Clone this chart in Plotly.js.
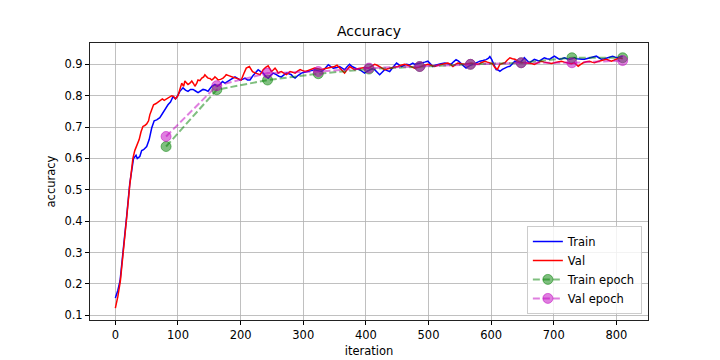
<!DOCTYPE html>
<html>
<head>
<meta charset="utf-8">
<script src="https://cdn.plot.ly/plotly-3.0.1.min.js"></script>
<style>html,body{margin:0;padding:0;background:#fff;}#chart{width:720px;height:360px;}</style>
</head>
<body>
<div id="chart"></div>
<script>
const trainIter = [0,4,7.5,13,18,23,29,33,35,39,42,45,50,54,58,62,66,71,77,84,88,92,96,98,103,108,112,116,120,124,128,132,136,140,144,148,151,154,159,163,167,171,175,179,183,187,191,195,199,203,207,211,215,219,223,228,232,236,240,244,248,252,257,261,265,269,273,277,281,284,287,292,297,302,308,313,318,323,329,334,340,344,348,354,358,362,366,370,374,378,382,386,390,394,398,402,406,410,414,418,422,426,430,434,438,443,449,453,457,461,465,470,475,478,484,489,494,499,503,507,511,515,520,526,531,536,540,544,548,552,556,560,565,571,576,582,587,592,596,598,601,603,606,608,611,614,618,622,626,630,634,638,642,646,650,653,657,661,665,669,673,677,681,685,689,693,697,701,705,709,713,717,721,725,729,733,737,741,745,749,753,757,762,768,772,776,781,786,790,794,798,802,806,810];
const trainAcc = [0.155,0.18,0.21,0.31,0.415,0.52,0.60,0.61,0.60,0.606,0.625,0.628,0.638,0.66,0.697,0.72,0.723,0.73,0.75,0.771,0.78,0.797,0.79,0.795,0.814,0.825,0.818,0.814,0.82,0.82,0.815,0.81,0.815,0.82,0.818,0.814,0.822,0.83,0.836,0.83,0.836,0.845,0.84,0.845,0.85,0.855,0.86,0.855,0.85,0.852,0.856,0.85,0.85,0.862,0.872,0.883,0.877,0.872,0.862,0.856,0.865,0.872,0.867,0.862,0.86,0.865,0.872,0.87,0.867,0.86,0.856,0.865,0.872,0.875,0.877,0.88,0.883,0.88,0.877,0.885,0.899,0.893,0.888,0.89,0.893,0.888,0.883,0.892,0.9,0.893,0.888,0.885,0.883,0.878,0.872,0.878,0.883,0.886,0.883,0.875,0.867,0.875,0.883,0.88,0.877,0.89,0.904,0.898,0.893,0.897,0.9,0.898,0.904,0.9,0.902,0.904,0.907,0.91,0.9,0.893,0.897,0.9,0.902,0.904,0.902,0.9,0.908,0.915,0.91,0.904,0.895,0.888,0.895,0.9,0.905,0.91,0.912,0.915,0.92,0.925,0.915,0.904,0.889,0.883,0.882,0.878,0.884,0.889,0.892,0.894,0.902,0.91,0.907,0.905,0.913,0.921,0.913,0.905,0.91,0.916,0.913,0.91,0.916,0.921,0.918,0.916,0.921,0.926,0.921,0.916,0.918,0.921,0.918,0.916,0.918,0.921,0.918,0.916,0.916,0.916,0.918,0.921,0.924,0.926,0.921,0.916,0.918,0.921,0.924,0.926,0.923,0.921,0.924,0.926];

const valIter = [0,4,8,13,18,23,28,31,34,38,41,44,47,50,53,55,58,61,65,68,71,75,78,82,86,90,93,96,98,100,103,106,109,111,114,116,119,122,125,127,130,132,135,138,141,143,146,148,151,154,157,159,162,164,168,172,175,177,181,185,189,193,197,201,205,209,214,219,224,228,231,234,236,240,244,247,249,252,255,258,260,263,265,269,273,276,279,283,287,291,295,299,303,307,311,315,318,323,329,334,340,345,350,354,358,362,366,370,374,378,382,387,393,398,404,409,414,418,422,426,430,435,441,446,451,456,462,467,473,478,484,489,494,499,505,510,515,521,526,531,535,539,543,547,552,558,563,568,574,579,584,590,594,598,602,606,610,614,618,622,626,630,634,638,643,648,654,659,664,669,674,680,685,691,696,701,707,712,717,723,728,733,736,739,743,747,752,757,761,765,769,773,778,784,788,792,796,800,805,810];
const valAcc = [0.123,0.16,0.21,0.30,0.41,0.515,0.60,0.625,0.64,0.66,0.685,0.702,0.705,0.71,0.72,0.739,0.755,0.771,0.775,0.78,0.782,0.79,0.785,0.79,0.795,0.80,0.798,0.79,0.795,0.80,0.82,0.84,0.83,0.847,0.84,0.836,0.84,0.847,0.838,0.83,0.84,0.85,0.848,0.856,0.86,0.867,0.86,0.856,0.855,0.85,0.855,0.86,0.855,0.85,0.852,0.856,0.862,0.867,0.864,0.86,0.858,0.856,0.852,0.85,0.87,0.888,0.893,0.877,0.872,0.87,0.867,0.875,0.883,0.89,0.895,0.885,0.877,0.882,0.888,0.88,0.872,0.876,0.877,0.872,0.867,0.872,0.877,0.875,0.872,0.878,0.883,0.88,0.877,0.88,0.883,0.886,0.888,0.886,0.883,0.886,0.888,0.891,0.893,0.897,0.888,0.878,0.872,0.883,0.893,0.888,0.883,0.886,0.888,0.89,0.888,0.895,0.9,0.897,0.893,0.888,0.883,0.886,0.888,0.891,0.893,0.897,0.9,0.897,0.893,0.888,0.891,0.893,0.897,0.9,0.897,0.893,0.897,0.9,0.902,0.904,0.9,0.893,0.9,0.904,0.902,0.9,0.902,0.904,0.902,0.9,0.905,0.91,0.907,0.904,0.902,0.89,0.884,0.9,0.903,0.905,0.914,0.921,0.918,0.916,0.91,0.905,0.905,0.905,0.903,0.9,0.905,0.91,0.907,0.905,0.903,0.905,0.908,0.91,0.907,0.905,0.902,0.905,0.9,0.894,0.9,0.905,0.908,0.91,0.907,0.905,0.908,0.91,0.913,0.916,0.913,0.91,0.913,0.916,0.921,0.918];

const epochIter = [81,162,243,324,405,486,567,648,729,810];
const trainEpochAcc = [0.638,0.819,0.85,0.87,0.885,0.893,0.9,0.905,0.921,0.921];
const valEpochAcc = [0.67,0.832,0.872,0.877,0.888,0.893,0.9,0.905,0.905,0.912];

const seriesNames = ['Train','Val','Train epoch','Val epoch'];

const FONT = 'DejaVu Sans, Liberation Sans, sans-serif';
const green = 'rgba(0,128,0,0.5)';
const mag = 'rgba(191,0,191,0.5)';

const traces = [
  {x: trainIter, y: trainAcc, name: seriesNames[0], mode: 'lines', line: {color: '#0000ff', width: 1.5}},
  {x: valIter, y: valAcc, name: seriesNames[1], mode: 'lines', line: {color: '#ff0000', width: 1.5}},
  {x: epochIter, y: trainEpochAcc, name: seriesNames[2], mode: 'lines+markers',
   line: {color: green, width: 2, dash: '7px,3px'},
   marker: {color: green, size: 10, line: {color: green, width: 1}}},
  {x: epochIter, y: valEpochAcc, name: seriesNames[3], mode: 'lines+markers',
   line: {color: mag, width: 2, dash: '7px,3px'},
   marker: {color: mag, size: 10, line: {color: mag, width: 1}}}
];

const axisCommon = {
  showline: true, linecolor: '#222', linewidth: 1, mirror: true,
  ticks: 'outside', ticklen: 4, tickcolor: '#000', tickwidth: 1,
  showgrid: true, gridcolor: '#b0b0b0', gridwidth: 0.8, zeroline: false,
  tickfont: {family: FONT, size: 11.5, color: '#000'}
};

const layout = {
  width: 720, height: 360,
  margin: {l: 90, r: 72, t: 43, b: 40},
  paper_bgcolor: '#fff', plot_bgcolor: '#fff',
  font: {family: FONT, color: '#000'},
  title: {text: 'Accuracy', font: {family: FONT, size: 14, color: '#000'},
          x: 0.5, xref: 'paper', xanchor: 'center', y: 0.915, yref: 'container', yanchor: 'middle'},
  xaxis: Object.assign({}, axisCommon, {
    range: [-40.5, 850.5], tickmode: 'array', tickvals: [0,100,200,300,400,500,600,700,800],
    title: {text: 'iteration', font: {family: FONT, size: 11.5, color: '#000'}, standoff: 6}
  }),
  yaxis: Object.assign({}, axisCommon, {
    range: [0.085, 0.968], tickmode: 'array', tickvals: [0.1,0.2,0.3,0.4,0.5,0.6,0.7,0.8,0.9],
    ticktext: ['0.1','0.2','0.3','0.4','0.5','0.6','0.7','0.8','0.9'],
    title: {text: 'accuracy', font: {family: FONT, size: 11.5, color: '#000'}, standoff: 6}
  }),
  legend: {x: 0.989, y: 0.022, xanchor: 'right', yanchor: 'bottom',
           bgcolor: 'rgba(255,255,255,0.8)', bordercolor: '#cccccc', borderwidth: 1,
           font: {family: FONT, size: 11.5, color: '#000'}},
  showlegend: true
};

Plotly.newPlot('chart', traces, layout, {displayModeBar: false, staticPlot: true});
</script>
</body>
</html>
